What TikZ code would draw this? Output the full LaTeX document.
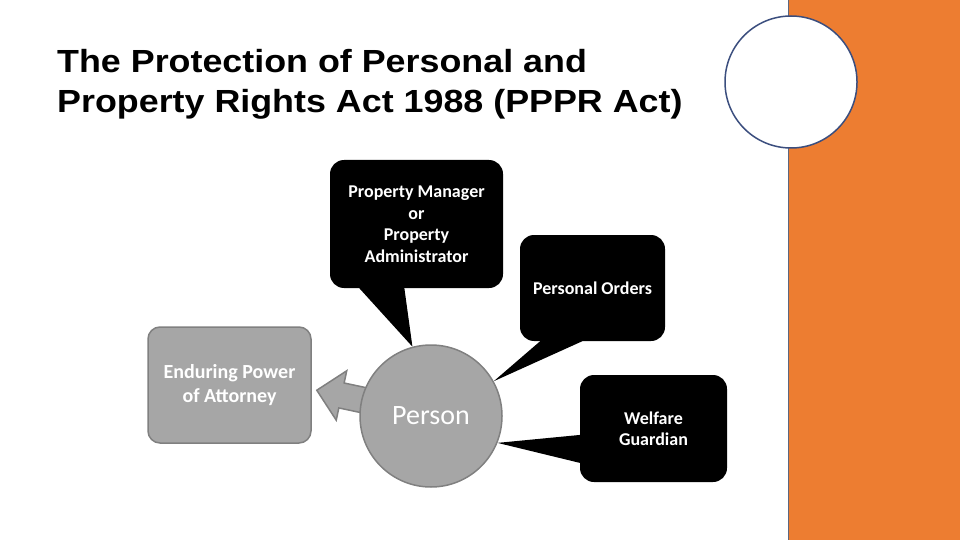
\documentclass[tikz,border=0pt]{standalone}
\usepackage{fontspec}
\setmainfont{Carlito}
\newfontfamily\headfont[FakeStretch=1.12]{Liberation Sans}
\usetikzlibrary{calc,shapes.arrows,backgrounds}
\definecolor{slideorange}{HTML}{ED7D31}
\definecolor{ringblue}{HTML}{3B4E7E}
\definecolor{boxgray}{HTML}{A6A6A6}
\definecolor{edgegray}{HTML}{808080}
\tikzset{
  headline/.style={anchor=base west,inner sep=0pt,font=\headfont\bfseries\fontsize{32}{38}\selectfont},
  blackbox/.style={fill=black,rounded corners=14pt,text=white,align=center,font=\bfseries\fontsize{18}{21.5}\selectfont},
  graybox/.style={fill=boxgray,draw=edgegray,line width=1.5pt,rounded corners=12pt,text=white,align=center}
}
\begin{document}
\begin{tikzpicture}[x=1pt,y=-1pt]
\useasboundingbox (0,0) rectangle (960,540);
\draw[fill=slideorange,draw=ringblue!50!gray,line width=1pt] (788,-1) rectangle (961,541);
\draw[fill=white,draw=ringblue,line width=1.5pt] (791,82) circle[radius=66];

\foreach \txt[count=\i] in {The Protection of Personal and,Property Rights Act 1988 (PPPR Act)}
  \node[headline] (title\i) at (57,{73+40*(\i-1)}) {\txt};

\node[blackbox,minimum width=173,minimum height=128] (pm) at (416.5,224) {Property Manager\\or\\Property\\Administrator};
\node[blackbox,minimum width=145,minimum height=106] (po) at (592.5,288) {Personal Orders};
\node[blackbox,minimum width=147,minimum height=107] (wg) at (653.5,428.5) {Welfare\\Guardian};
\node[graybox,minimum width=163,minimum height=116,font=\bfseries\fontsize{20}{24}\selectfont] (epa) at (229.5,385) {Enduring Power\\of Attorney};
\node[graybox,circle,minimum size=142,font=\fontsize{28}{30}\selectfont] (person) at (431,416) {Person};

\begin{scope}[on background layer]
  \fill ($(pm.south west)!0.17!(pm.south east)$) -- ($(pm.south west)!0.43!(pm.south east)$) -- (person.105) -- cycle;
  \fill ($(po.south west)!0.14!(po.south east)$) -- ($(po.south west)!0.43!(po.south east)$) -- (person.29) -- cycle;
  \fill ($(wg.north west)!0.56!(wg.south west)$) -- ($(wg.north west)!0.82!(wg.south west)$) -- (person.-22) -- cycle;
  \node[single arrow,fill=boxgray,draw=edgegray,line width=1.5pt,inner xsep=0pt,inner ysep=12pt,
    minimum height=62,single arrow head extend=12.5pt,rotate=168,anchor=tip] (arrow) at ($(epa.east)+(4,5)$) {};
\end{scope}
\end{tikzpicture}
\end{document}
